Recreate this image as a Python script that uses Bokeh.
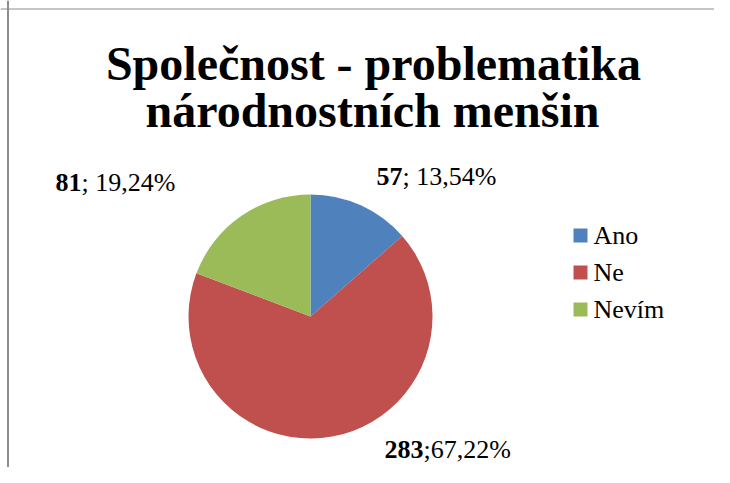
import math
from bokeh.plotting import figure
from bokeh.models import ColumnDataSource, Range1d, Span
from bokeh.core.properties import value
from bokeh.embed import file_html
from bokeh.resources import INLINE

# ---- data ----
title_lines = ["Společnost - problematika", "národnostních menšin"]
categories = ["Ano", "Ne", "Nevím"]
counts = [57, 283, 81]
percent_labels = ["13,54%", "67,22%", "19,24%"]
separators = ["; ", ";", "; "]
colors = ["#4F81BD", "#C0504D", "#9BBB59"]

# ---- layout (pixel-like data space: 1 unit = 1 px) ----
W, H = 714, 467
FONT = "Liberation Serif"
cx, cy, R = 310, 151, 122
label_pos = [(376, 291), (384, 18), (55, 285)]  # left/baseline of each label
LBL_SIZE = 26
legend_x, legend_y0, legend_dy = 573, 232, 37

p = figure(width=W, height=H, output_backend="svg", toolbar_location=None,
           x_range=Range1d(0, W), y_range=Range1d(0, H),
           x_axis_location=None, y_axis_location=None,
           min_border=0, outline_line_color=None)
p.grid.visible = False
p.background_fill_color = "white"
p.border_fill_color = "white"

# chart-area frame (cropped: only left and top edges visible)
p.add_layout(Span(location=7.5, dimension="height", line_color="#8c8c8c", line_width=2))
p.add_layout(Span(location=458.5, dimension="width", line_color="#8c8c8c", line_width=1))

# pie wedges, starting at 12 o'clock, clockwise
total = sum(counts)
starts, ends = [], []
cum = 0
for c in counts:
    starts.append(math.pi / 2 - 2 * math.pi * cum / total)
    cum += c
    ends.append(math.pi / 2 - 2 * math.pi * cum / total)
src = ColumnDataSource(dict(cat=categories, start=starts, end=ends, color=colors))
p.wedge(x=cx, y=cy, radius=R, start_angle="start", end_angle="end",
        direction="clock", fill_color="color", line_color=None, source=src)

# title
p.text(x=[373, 372], y=[404, 357], text=title_lines, text_align="center",
       text_baseline="alphabetic", text_font=value(FONT), text_font_style="bold",
       text_font_size="48px", text_color="black")

# data labels: bold count + regular percentage
nx, ny, nt, rx, rt = [], [], [], [], []
for (lx, ly), c, sep, pct in zip(label_pos, counts, separators, percent_labels):
    s = str(c)
    nx.append(lx); ny.append(ly); nt.append(s)
    rx.append(lx + len(s) * 0.5 * LBL_SIZE); rt.append(sep + pct)
p.text(x=nx, y=ny, text=nt, text_align="left", text_baseline="alphabetic",
       text_font=value(FONT), text_font_style="bold", text_font_size=f"{LBL_SIZE}px",
       text_color="black")
p.text(x=rx, y=ny, text=rt, text_align="left", text_baseline="alphabetic",
       text_font=value(FONT), text_font_size=f"{LBL_SIZE}px", text_color="black")

# legend
ly = [legend_y0 - i * legend_dy for i in range(len(categories))]
p.rect(x=[legend_x + 7] * len(categories), y=ly, width=14, height=14,
       fill_color=colors, line_color=None)
p.text(x=[legend_x + 20] * len(categories), y=ly, text=categories, text_align="left",
       text_baseline="middle", text_font=value(FONT), text_font_size=f"{LBL_SIZE}px",
       text_color="black")

open("out.html", "w").write(file_html(p, INLINE))
